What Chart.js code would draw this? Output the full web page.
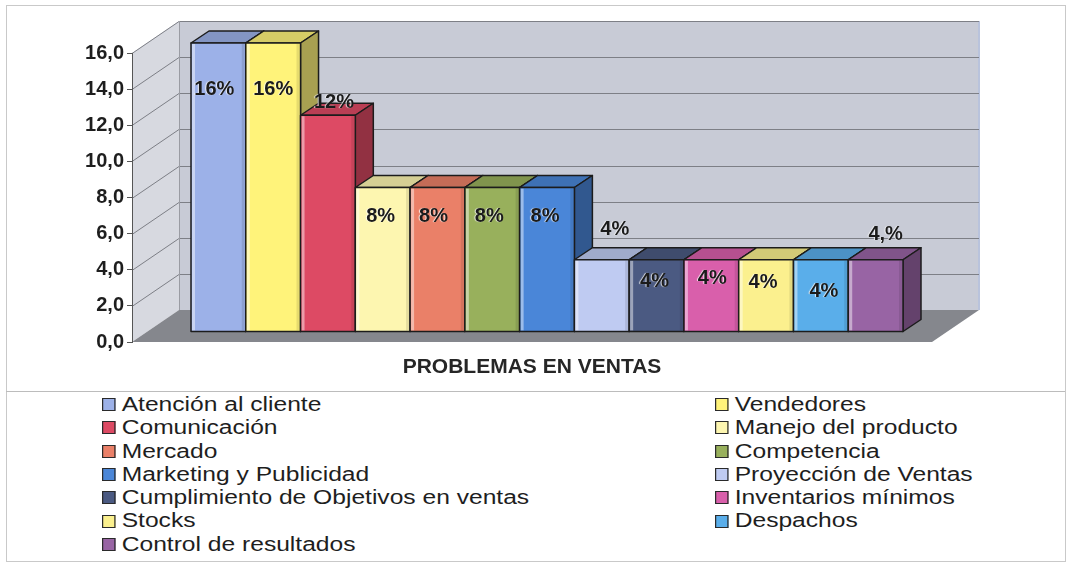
<!DOCTYPE html>
<html>
<head>
<meta charset="utf-8">
<script src="https://cdn.jsdelivr.net/npm/chart.js@4.4.0/dist/chart.umd.min.js"></script>
<style>
    body { margin: 0; background: #fff; width: 1070px; height: 573px; overflow: hidden; position: relative;
           font-family: Arial, "Liberation Sans", sans-serif; }
    #frame { position: absolute; left: 6px; top: 5px; width: 1058px; height: 555px; border: 1px solid #c9c9c9; }
    #sep { position: absolute; left: 6px; top: 391px; width: 1059px; border-top: 1px solid #bcbcbc; }
    #wrap { position: absolute; left: 0; top: 0; width: 1070px; height: 391px; }
    .legend-col { position: absolute; top: 393px; transform: scaleX(1.23); transform-origin: left top; }
    .legend-item { height: 23.3px; line-height: 23.3px; font-size: 20px; color: #1e1e1e; white-space: nowrap; display: flex; align-items: center; }
    .legend-box { width: 11px; height: 13px; border: 1.5px solid #2a2a2a; margin-right: 5px; box-sizing: border-box; }
</style>
</head>
<body>
<div id="frame"></div>
<div id="sep"></div>
<div id="wrap"><canvas id="chart" width="1070" height="391"></canvas></div>
<div class="legend-col" id="legend-left" style="left:102px"></div>
<div class="legend-col" id="legend-right" style="left:715px"></div>

<script>
// ─── Data ──────────────────────────────────────────────────
const categories = ['PROBLEMAS EN VENTAS'];
const problems = [
    'Atención al cliente', 'Vendedores', 'Comunicación', 'Manejo del producto',
    'Mercado', 'Competencia', 'Marketing y Publicidad', 'Proyección de Ventas',
    'Cumplimiento de Objetivos en ventas', 'Inventarios mínimos', 'Stocks',
    'Despachos', 'Control de resultados'
];
const values = [16, 16, 12, 8, 8, 8, 8, 4, 4, 4, 4, 4, 4];
const valueLabels = ['16%', '16%', '12%', '8%', '8%', '8%', '8%', '4%', '4%', '4%', '4%', '4%', '4,%'];
const yMin = 0;
const yMax = 16;
const yStep = 2;

// ─── Styling ───────────────────────────────────────────────
const COLORS = ['#9cb1e8', '#fff37a', '#dd4a64', '#fdf6b0', '#ea8068', '#98b05c', '#4a86d8',
                '#bfcbf2', '#4b5a82', '#d95fab', '#fbf08e', '#5aaeea', '#9864a4'];
// where each percentage label sits (in axis units) and its sideways nudge
const LABEL_AT = [13.4, 13.4, 12.7, 6.4, 6.4, 6.4, 6.4, 5.65, 2.8, 2.95, 2.75, 2.25, 5.4];
const LABEL_DX = [-4, 0, 6, -2, -4, -3, -2, 13, -2, 1, -3, 3, 10];

const WALL = { x: 47, y: -32 };      // back wall offset from the front plane
const SHIFT = { x: 15, y: -10 };     // bars sit a little behind the front plane
const BAR_DEPTH = { x: 18, y: -12 };

function shade(hex, f) {
    const n = parseInt(hex.slice(1), 16);
    const c = [(n >> 16) & 255, (n >> 8) & 255, n & 255].map(v => Math.round(f < 1 ? v * f : v + (255 - v) * (f - 1)));
    return `rgb(${c[0]},${c[1]},${c[2]})`;
}

function poly(ctx, pts, fill, stroke, lw) {
    ctx.beginPath();
    pts.forEach((p, i) => i ? ctx.lineTo(p[0], p[1]) : ctx.moveTo(p[0], p[1]));
    ctx.closePath();
    if (fill) { ctx.fillStyle = fill; ctx.fill(); }
    if (stroke) { ctx.strokeStyle = stroke; ctx.lineWidth = lw || 1; ctx.stroke(); }
}

const box3d = {
    id: 'box3d',
    beforeDraw(chart) {
        const { ctx, chartArea: a, scales: { y } } = chart;
        const bx = WALL.x, by = WALL.y;
        ctx.save();
        // left wall
        poly(ctx, [[a.left, a.top], [a.left + bx, a.top + by], [a.left + bx, a.bottom + by], [a.left, a.bottom]], '#d7d9e0');
        // back wall
        poly(ctx, [[a.left + bx, a.top + by], [a.right + bx, a.top + by], [a.right + bx, a.bottom + by], [a.left + bx, a.bottom + by]], '#c8cbd6');
        ctx.strokeStyle = '#b9c3dc';
        ctx.lineWidth = 2;
        ctx.beginPath();
        ctx.moveTo(a.right + bx, a.top + by);
        ctx.lineTo(a.right + bx, a.bottom + by);
        ctx.stroke();
        // floor
        poly(ctx, [[a.left, a.bottom], [a.right, a.bottom], [a.right + bx, a.bottom + by], [a.left + bx, a.bottom + by]], '#85878d');
        // grid lines on left and back walls
        ctx.strokeStyle = '#7d7f86';
        ctx.lineWidth = 1;
        y.ticks.forEach(t => {
            if (t.value === yMin) return;
            const py = Math.round(y.getPixelForValue(t.value)) + 0.5;
            ctx.beginPath();
            ctx.moveTo(a.left, py);
            ctx.lineTo(a.left + bx, py + by);
            ctx.lineTo(a.right + bx, py + by);
            ctx.stroke();
        });
        ctx.strokeStyle = '#9a9ca3';
        ctx.beginPath();
        ctx.moveTo(a.left + bx + 0.5, a.top + by);
        ctx.lineTo(a.left + bx + 0.5, a.bottom + by);
        ctx.stroke();
        ctx.restore();
    },
    beforeDatasetsDraw(chart) {
        chart.ctx.save();
        chart.ctx.translate(SHIFT.x, SHIFT.y);
    },
    afterDatasetsDraw(chart) {
        const { ctx, scales: { y } } = chart;
        const dx = BAR_DEPTH.x, dy = BAR_DEPTH.y;
        const metas = chart.getSortedVisibleDatasetMetas();
        const bars = metas.map(m => m.data[0].getProps(['x', 'y', 'base', 'width'], true));
        ctx.lineJoin = 'round';

        // top and side faces, left to right
        bars.forEach((b, i) => {
            const l = b.x - b.width / 2, r = b.x + b.width / 2;
            const c = COLORS[i];
            poly(ctx, [[l, b.y], [l + dx, b.y + dy], [r + dx, b.y + dy], [r, b.y]], shade(c, 0.84), '#1c1c1c', 1.5);
            poly(ctx, [[r, b.y], [r + dx, b.y + dy], [r + dx, b.base + dy], [r, b.base]], shade(c, 0.66), '#1c1c1c', 1.5);
        });
        // front faces on top
        bars.forEach((b, i) => {
            const l = b.x - b.width / 2, r = b.x + b.width / 2;
            const c = COLORS[i];
            ctx.fillStyle = c;
            ctx.fillRect(l, b.y, b.width, b.base - b.y);
            ctx.fillStyle = shade(c, 1.45);
            ctx.fillRect(l + 1, b.y + 1, 3, b.base - b.y - 2);
            ctx.fillStyle = shade(c, 0.9);
            ctx.fillRect(r - 4, b.y + 1, 3, b.base - b.y - 2);
            ctx.strokeStyle = '#1c1c1c';
            ctx.lineWidth = 1.5;
            ctx.strokeRect(l, b.y, b.width, b.base - b.y);
        });

        // percentage labels
        ctx.font = 'bold 20px Arial, "Liberation Sans", sans-serif';
        ctx.textAlign = 'center';
        ctx.textBaseline = 'middle';
        ctx.shadowColor = 'rgba(255,255,255,0.85)';
        ctx.shadowOffsetX = -1;
        ctx.shadowOffsetY = 0;
        ctx.shadowBlur = 1;
        ctx.fillStyle = '#1b1b1b';
        bars.forEach((b, i) => {
            ctx.fillText(valueLabels[i], b.x + LABEL_DX[i], y.getPixelForValue(LABEL_AT[i]));
        });
        ctx.restore();
    }
};

const ctx = document.getElementById('chart');
new Chart(ctx, {
    type: 'bar',
    data: {
        labels: categories,
        datasets: problems.map((p, i) => ({
            label: p,
            data: [values[i]],
            backgroundColor: COLORS[i],
            borderWidth: 0,
            barPercentage: 1,
            categoryPercentage: 0.89
        }))
    },
    options: {
        responsive: false,
        animation: false,
        layout: { padding: { left: 20, top: 53, right: 138, bottom: 0 } },
        plugins: {
            legend: { display: false },
            tooltip: { enabled: false }
        },
        scales: {
            x: {
                afterFit: s => { s.height = 49; },
                grid: { display: false, drawTicks: false },
                border: { display: false },
                ticks: {
                    padding: 13,
                    color: '#262626',
                    font: { family: 'Arial, "Liberation Sans", sans-serif', size: 21, weight: 'bold' }
                }
            },
            y: {
                min: yMin,
                max: yMax,
                afterFit: s => { s.width = 112; },
                grid: { drawOnChartArea: false, drawTicks: true, tickLength: 5, color: '#555' },
                border: { display: true, color: '#555', width: 1 },
                ticks: {
                    stepSize: yStep,
                    padding: 3,
                    color: '#1e1e1e',
                    font: { family: 'Arial, "Liberation Sans", sans-serif', size: 20, weight: 'bold' },
                    callback: v => v.toFixed(1).replace('.', ',')
                }
            }
        }
    },
    plugins: [box3d]
});

// legend, two columns read row-wise
const leftCol = document.getElementById('legend-left');
const rightCol = document.getElementById('legend-right');
problems.forEach((p, i) => {
    const item = document.createElement('div');
    item.className = 'legend-item';
    item.innerHTML = `<span class="legend-box" style="background:${COLORS[i]}"></span><span>${p}</span>`;
    (i % 2 === 0 ? leftCol : rightCol).appendChild(item);
});
</script>
</body>
</html>
